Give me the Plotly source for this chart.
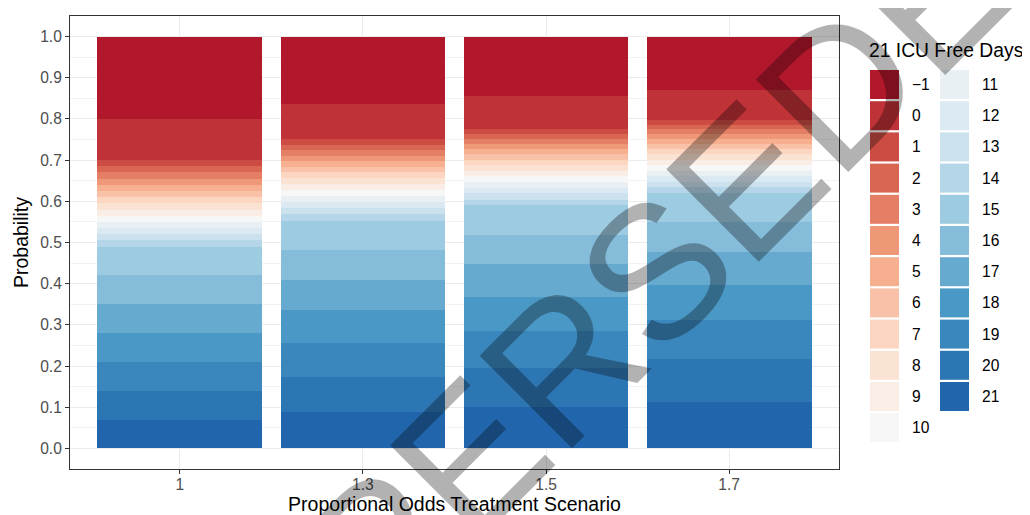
import plotly.graph_objects as go

# ---- data ----
scenarios = ["1", "1.3", "1.5", "1.7"]
categories = [-1, 0, 1, 2, 3, 4, 5, 6, 7, 8, 9, 10, 11, 12, 13, 14, 15, 16, 17, 18, 19, 20, 21]

# probability of each outcome category (order follows `categories`)
p_1_0 = [0.200, 0.100, 0.015, 0.015, 0.015, 0.015, 0.015, 0.015, 0.015, 0.015, 0.015, 0.015,
         0.015, 0.015, 0.015, 0.015, 0.070, 0.070, 0.070, 0.070, 0.070, 0.070, 0.070]
p_1_3 = [0.163, 0.085, 0.015, 0.012, 0.014, 0.013, 0.014, 0.014, 0.014, 0.015, 0.013, 0.014,
         0.015, 0.014, 0.015, 0.017, 0.070, 0.073, 0.075, 0.080, 0.082, 0.085, 0.088]
p_1_5 = [0.144, 0.080, 0.012, 0.012, 0.012, 0.013, 0.012, 0.014, 0.014, 0.013, 0.013, 0.015,
         0.013, 0.014, 0.015, 0.014, 0.071, 0.072, 0.080, 0.083, 0.089, 0.095, 0.100]
p_1_7 = [0.129, 0.073, 0.012, 0.011, 0.012, 0.012, 0.012, 0.012, 0.012, 0.015, 0.013, 0.013,
         0.013, 0.013, 0.014, 0.014, 0.069, 0.074, 0.081, 0.085, 0.095, 0.103, 0.113]
series = [p_1_0, p_1_3, p_1_5, p_1_7]

y_ticks = [0.0, 0.1, 0.2, 0.3, 0.4, 0.5, 0.6, 0.7, 0.8, 0.9, 1.0]

legend_title = "21 ICU Free Days"
x_title = "Proportional Odds Treatment Scenario"
y_title = "Probability"
watermark = "SUPERSEDED"

# ---- colours: RdBu (9) interpolated to 23 ----
rdbu9 = ["#B2182B", "#D6604D", "#F4A582", "#FDDBC7", "#F7F7F7",
         "#D1E5F0", "#92C5DE", "#4393C3", "#2166AC"]


def hex2rgb(h):
    h = h.lstrip("#")
    return [int(h[i:i + 2], 16) for i in (0, 2, 4)]


def ramp(stops, n):
    rgbs = [hex2rgb(s) for s in stops]
    out = []
    for i in range(n):
        t = i * (len(stops) - 1) / (n - 1)
        k = min(int(t), len(stops) - 2)
        f = t - k
        c = [round(rgbs[k][j] + (rgbs[k + 1][j] - rgbs[k][j]) * f) for j in range(3)]
        out.append("#%02X%02X%02X" % tuple(c))
    return out


colors = ramp(rdbu9, len(categories))

FONT = "Liberation Sans, Arial, Helvetica, sans-serif"
OFF = 8  # page body margin in the browser
W, H = 1030 - OFF, 515 - OFF
ML, MT = 70 - OFF, 16 - OFF
PW, PH = 769, 453
MR, MB = W - ML - PW, H - MT - PH

fig = go.Figure()
# stack from bottom (21) to top (-1)
for idx in reversed(range(len(categories))):
    fig.add_trace(go.Bar(
        x=scenarios,
        y=[s[idx] for s in series],
        name=str(categories[idx]),
        marker=dict(color=colors[idx], line=dict(width=0)),
        width=0.9,
        showlegend=False,
        hovertemplate="%{x}: %{y}<extra>" + str(categories[idx]) + "</extra>",
    ))


def px2paper(x, y):
    """page pixel -> paper coordinates"""
    fx, fy = x - OFF, y - OFF
    return (fx - ML) / PW, (H - MB - fy) / PH


shapes = []
annotations = []

# manual two-column legend (column-major like ggplot)
n_col1 = 12
key_w, key_h, pitch = 29, 29, 31.2
col_x = [870, 940]
lab_x = [910, 980]
top0 = 70
for i, cat in enumerate(categories):
    col = 0 if i < n_col1 else 1
    row = i if i < n_col1 else i - n_col1
    x0, y0 = col_x[col], top0 + row * pitch
    a0, b0 = px2paper(x0, y0 + key_h)
    a1, b1 = px2paper(x0 + key_w, y0)
    shapes.append(dict(type="rect", xref="paper", yref="paper", x0=a0, x1=a1, y0=b0, y1=b1,
                       fillcolor=colors[i], line=dict(width=0), layer="above"))
    lx, ly = px2paper(lab_x[col], y0 + key_h / 2)
    label = str(cat).replace("-", "\u2212")
    annotations.append(dict(text=label, xref="paper", yref="paper", x=lx, y=ly,
                            xanchor="left", yanchor="middle", showarrow=False,
                            font=dict(family=FONT, size=15.6, color="#000000")))

tx, ty = px2paper(867, 50)
annotations.append(dict(text=legend_title, xref="paper", yref="paper", x=tx, y=ty,
                        xanchor="left", yanchor="middle", showarrow=False,
                        font=dict(family=FONT, size=19.3, color="#000000")))

wx, wy = px2paper(611, 316)
annotations.append(dict(text=watermark, xref="paper", yref="paper", x=wx, y=wy,
                        xanchor="center", yanchor="middle", showarrow=False,
                        textangle=-45,
                        font=dict(family=FONT, size=190, color="rgba(0,0,0,0.3)")))

fig.update_layout(
    width=W, height=H,
    margin=dict(l=ML, r=MR, t=MT, b=MB, autoexpand=False),
    barmode="stack",
    bargap=0.1,
    plot_bgcolor="white",
    paper_bgcolor="white",
    font=dict(family=FONT, color="#000000"),
    shapes=shapes,
    annotations=annotations,
    showlegend=False,
)

fig.update_xaxes(
    type="category",
    range=[-0.6, 3.6],
    automargin=False,
    showgrid=True, gridcolor="#EBEBEB", gridwidth=1.1,
    showline=True, mirror=True, linecolor="#333333", linewidth=1.1,
    ticks="outside", ticklen=4, tickcolor="#333333", tickwidth=1.1,
    ticklabelstandoff=-3,
    tickfont=dict(family=FONT, size=15.6, color="#4D4D4D"),
    title=dict(text=x_title, font=dict(family=FONT, size=19.5, color="#000000"), standoff=3),
    zeroline=False,
)
fig.update_yaxes(
    range=[-0.05, 1.05],
    automargin=False,
    tickvals=y_ticks,
    tickformat=".1f",
    showgrid=True, gridcolor="#EBEBEB", gridwidth=1.1,
    minor=dict(dtick=0.05, tick0=0.05, showgrid=True, gridcolor="#F2F2F2", gridwidth=0.6, ticks=""),
    showline=True, mirror=True, linecolor="#333333", linewidth=1.1,
    ticks="outside", ticklen=4, tickcolor="#333333", tickwidth=1.1,
    tickfont=dict(family=FONT, size=15.6, color="#4D4D4D"),
    title=dict(text=y_title, font=dict(family=FONT, size=19.5, color="#000000"), standoff=6),
    zeroline=False,
)

fig.write_html("out.html")
